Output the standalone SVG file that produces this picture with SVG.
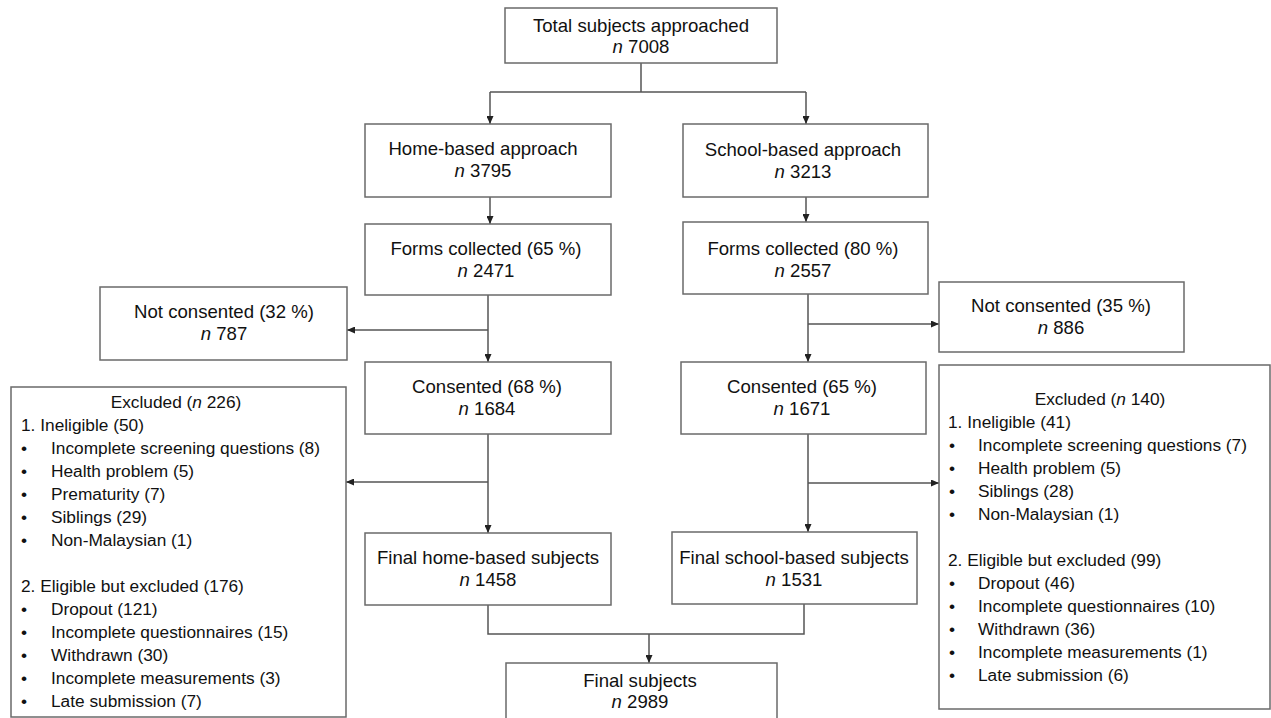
<svg xmlns="http://www.w3.org/2000/svg" width="1271" height="718" viewBox="0 0 1271 718">
<style>
  .box { fill: #ffffff; stroke: #6a6a6a; stroke-width: 1.5; }
  .ln { fill: none; stroke: #555555; stroke-width: 1.5; }
  .t { font-family: "Liberation Sans", Arial, sans-serif; font-size: 18.6px; fill: #111111; text-anchor: middle; }
  .l { font-family: "Liberation Sans", Arial, sans-serif; font-size: 17.3px; fill: #111111; }
  .c { text-anchor: middle; }
  .i { font-style: italic; }
</style>
<defs>
  <marker id="arr" markerUnits="userSpaceOnUse" markerWidth="8" markerHeight="7" refX="8" refY="3.5" orient="auto">
    <path d="M0,0 L8,3.5 L0,7 z" fill="#222222"/>
  </marker>
</defs>
<rect width="1271" height="718" fill="#ffffff"/>

<g id="connectors">
  <path class="ln" d="M641,63 V92 M490,92 H806"/>
  <path class="ln" d="M490,92 V124" marker-end="url(#arr)"/>
  <path class="ln" d="M806,92 V124" marker-end="url(#arr)"/>
  <path class="ln" d="M490,197 V224" marker-end="url(#arr)"/>
  <path class="ln" d="M806,197 V222" marker-end="url(#arr)"/>
  <path class="ln" d="M488,295 V362" marker-end="url(#arr)"/>
  <path class="ln" d="M488,330 H347" marker-end="url(#arr)"/>
  <path class="ln" d="M808,294 V362" marker-end="url(#arr)"/>
  <path class="ln" d="M808,324 H939" marker-end="url(#arr)"/>
  <path class="ln" d="M488,434 V533" marker-end="url(#arr)"/>
  <path class="ln" d="M488,482 H346" marker-end="url(#arr)"/>
  <path class="ln" d="M808,434 V532" marker-end="url(#arr)"/>
  <path class="ln" d="M808,483 H939" marker-end="url(#arr)"/>
  <path class="ln" d="M488,605 V634 H804 V604"/>
  <path class="ln" d="M649,634 V663" marker-end="url(#arr)"/>
</g>

<g id="total">
  <rect class="box" x="505" y="8" width="272" height="55"/>
  <text class="t" x="641" y="32">Total subjects approached</text>
  <text class="t" x="641" y="53"><tspan class="i">n</tspan> 7008</text>
</g>

<g id="home">
  <rect class="box" x="365" y="124" width="246" height="73"/>
  <text class="t" x="483" y="155">Home-based approach</text>
  <text class="t" x="483" y="177"><tspan class="i">n</tspan> 3795</text>
</g>

<g id="school">
  <rect class="box" x="683" y="124" width="245" height="73"/>
  <text class="t" x="803" y="156">School-based approach</text>
  <text class="t" x="803" y="178"><tspan class="i">n</tspan> 3213</text>
</g>

<g id="forms-home">
  <rect class="box" x="365" y="224" width="246" height="71"/>
  <text class="t" x="486" y="255">Forms collected (65 %)</text>
  <text class="t" x="486" y="277"><tspan class="i">n</tspan> 2471</text>
</g>

<g id="forms-school">
  <rect class="box" x="683" y="222" width="245" height="72"/>
  <text class="t" x="803" y="255">Forms collected (80 %)</text>
  <text class="t" x="803" y="277"><tspan class="i">n</tspan> 2557</text>
</g>

<g id="notconsented-home">
  <rect class="box" x="100" y="287" width="247" height="73"/>
  <text class="t" x="224" y="318">Not consented (32 %)</text>
  <text class="t" x="224" y="340"><tspan class="i">n</tspan> 787</text>
</g>

<g id="notconsented-school">
  <rect class="box" x="939" y="282" width="245" height="70"/>
  <text class="t" x="1061" y="312">Not consented (35 %)</text>
  <text class="t" x="1061" y="334"><tspan class="i">n</tspan> 886</text>
</g>

<g id="consented-home">
  <rect class="box" x="365" y="362" width="246" height="72"/>
  <text class="t" x="487" y="393">Consented (68 %)</text>
  <text class="t" x="487" y="415"><tspan class="i">n</tspan> 1684</text>
</g>

<g id="consented-school">
  <rect class="box" x="681" y="362" width="245" height="72"/>
  <text class="t" x="802" y="393">Consented (65 %)</text>
  <text class="t" x="802" y="415"><tspan class="i">n</tspan> 1671</text>
</g>

<g id="excluded-home">
  <rect class="box" x="11" y="387" width="335" height="330"/>
  <text class="l c" x="176" y="408">Excluded (<tspan class="i">n</tspan> 226)</text>
  <text class="l" x="21" y="431">1. Ineligible (50)</text>
  <text class="l" x="21" y="454">•</text><text class="l" x="51" y="454">Incomplete screening questions (8)</text>
  <text class="l" x="21" y="477">•</text><text class="l" x="51" y="477">Health problem (5)</text>
  <text class="l" x="21" y="500">•</text><text class="l" x="51" y="500">Prematurity (7)</text>
  <text class="l" x="21" y="523">•</text><text class="l" x="51" y="523">Siblings (29)</text>
  <text class="l" x="21" y="546">•</text><text class="l" x="51" y="546">Non-Malaysian (1)</text>
  <text class="l" x="21" y="592">2. Eligible but excluded (176)</text>
  <text class="l" x="21" y="615">•</text><text class="l" x="51" y="615">Dropout (121)</text>
  <text class="l" x="21" y="638">•</text><text class="l" x="51" y="638">Incomplete questionnaires (15)</text>
  <text class="l" x="21" y="661">•</text><text class="l" x="51" y="661">Withdrawn (30)</text>
  <text class="l" x="21" y="684">•</text><text class="l" x="51" y="684">Incomplete measurements (3)</text>
  <text class="l" x="21" y="707">•</text><text class="l" x="51" y="707">Late submission (7)</text>
</g>

<g id="excluded-school">
  <rect class="box" x="939" y="365" width="331" height="344"/>
  <text class="l c" x="1100" y="405">Excluded (<tspan class="i">n</tspan> 140)</text>
  <text class="l" x="948" y="428">1. Ineligible (41)</text>
  <text class="l" x="949" y="451">•</text><text class="l" x="978" y="451">Incomplete screening questions (7)</text>
  <text class="l" x="949" y="474">•</text><text class="l" x="978" y="474">Health problem (5)</text>
  <text class="l" x="949" y="497">•</text><text class="l" x="978" y="497">Siblings (28)</text>
  <text class="l" x="949" y="520">•</text><text class="l" x="978" y="520">Non-Malaysian (1)</text>
  <text class="l" x="948" y="566">2. Eligible but excluded (99)</text>
  <text class="l" x="949" y="589">•</text><text class="l" x="978" y="589">Dropout (46)</text>
  <text class="l" x="949" y="612">•</text><text class="l" x="978" y="612">Incomplete questionnaires (10)</text>
  <text class="l" x="949" y="635">•</text><text class="l" x="978" y="635">Withdrawn (36)</text>
  <text class="l" x="949" y="658">•</text><text class="l" x="978" y="658">Incomplete measurements (1)</text>
  <text class="l" x="949" y="681">•</text><text class="l" x="978" y="681">Late submission (6)</text>
</g>

<g id="final-home">
  <rect class="box" x="365" y="533" width="246" height="72"/>
  <text class="t" x="488" y="564">Final home-based subjects</text>
  <text class="t" x="488" y="586"><tspan class="i">n</tspan> 1458</text>
</g>

<g id="final-school">
  <rect class="box" x="672" y="532" width="245" height="72"/>
  <text class="t" x="794" y="564">Final school-based subjects</text>
  <text class="t" x="794" y="586"><tspan class="i">n</tspan> 1531</text>
</g>

<g id="final">
  <rect class="box" x="506" y="663" width="271" height="70"/>
  <text class="t" x="640" y="687">Final subjects</text>
  <text class="t" x="640" y="708"><tspan class="i">n</tspan> 2989</text>
</g>
</svg>
